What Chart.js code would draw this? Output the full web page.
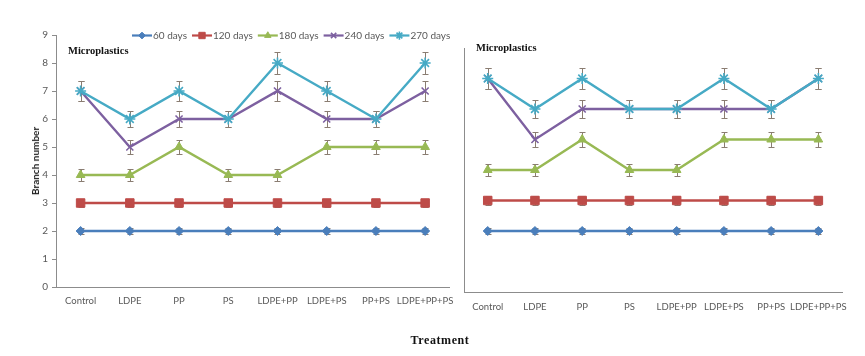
<!DOCTYPE html>
<html>
<head>
<meta charset="utf-8">
<script src="https://cdn.jsdelivr.net/npm/chart.js@4/dist/chart.umd.min.js"></script>
<style>
	body { margin: 0; background: #fff; }
	#wrap { position: relative; width: 865px; height: 356px; overflow: hidden; }
	canvas { position: absolute; top: 0; }
	.lbl { position: absolute; white-space: nowrap; }
	.micro { font: bold 10.5px 'Liberation Serif', serif; color: #111; }
</style>
</head>
<body>
<div id="wrap">
	<canvas id="left" width="462" height="356" style="left:0"></canvas>
	<canvas id="right" width="408" height="356" style="left:457px"></canvas>
	<div class="lbl micro" style="left:68px; top:45px;">Microplastics</div>
	<div class="lbl micro" style="left:476px; top:42px;">Microplastics</div>
	<div class="lbl" style="left:35px; top:161px; transform: translate(-50%,-50%) rotate(-90deg); font: bold 10px Lato, sans-serif; color:#222;">Branch number</div>
	<div class="lbl" style="left:440px; top:340px; transform: translate(-50%,-50%); font: bold 12px 'Liberation Serif', serif; letter-spacing: 0.6px; color:#111;">Treatment</div>
</div>
<script>
const categories = ['Control', 'LDPE', 'PP', 'PS', 'LDPE+PP', 'LDPE+PS', 'PP+PS', 'LDPE+PP+PS'];
const seriesNames = ['60 days', '120 days', '180 days', '240 days', '270 days'];

// left panel
const left60 = [2, 2, 2, 2, 2, 2, 2, 2];
const left120 = [3, 3, 3, 3, 3, 3, 3, 3];
const left180 = [4, 4, 5, 4, 4, 5, 5, 5];
const left240 = [7, 5, 6, 6, 7, 6, 6, 7];
const left270 = [7, 6, 7, 6, 8, 7, 6, 8];
const leftErr60 = [0.1, 0.1, 0.1, 0.1, 0.1, 0.1, 0.1, 0.1];
const leftErr120 = [0.15, 0.15, 0.15, 0.15, 0.15, 0.15, 0.15, 0.15];
const leftErr180 = [0.2, 0.2, 0.25, 0.2, 0.2, 0.25, 0.25, 0.25];
const leftErr240 = [0.35, 0.25, 0.3, 0.3, 0.35, 0.3, 0.3, 0.35];
const leftErr270 = [0.35, 0.3, 0.35, 0.3, 0.4, 0.35, 0.3, 0.4];

// right panel
const right60 = [2, 2, 2, 2, 2, 2, 2, 2];
const right120 = [3, 3, 3, 3, 3, 3, 3, 3];
const right180 = [4, 4, 5, 4, 4, 5, 5, 5];
const right240 = [7, 5, 6, 6, 6, 6, 6, 7];
const right270 = [7, 6, 7, 6, 6, 7, 6, 7];
const rightErr60 = [0.1, 0.1, 0.1, 0.1, 0.1, 0.1, 0.1, 0.1];
const rightErr120 = [0.15, 0.15, 0.15, 0.15, 0.15, 0.15, 0.15, 0.15];
const rightErr180 = [0.2, 0.2, 0.25, 0.2, 0.2, 0.25, 0.25, 0.25];
const rightErr240 = [0.35, 0.25, 0.3, 0.3, 0.3, 0.3, 0.3, 0.35];
const rightErr270 = [0.35, 0.3, 0.35, 0.3, 0.3, 0.35, 0.3, 0.35];

const yTicksLeft = [0, 1, 2, 3, 4, 5, 6, 7, 8, 9];

const colors = ['#4a7ebb', '#be4b48', '#98b954', '#7d60a0', '#46aac5'];
const styles = [
	{ pointStyle: 'rectRot', radius: 4.5, bw: 1 },
	{ pointStyle: 'rect', radius: 6, bw: 1 },
	{ pointStyle: 'triangle', radius: 5, bw: 1 },
	{ pointStyle: 'crossRot', radius: 5, bw: 1.6 },
	{ pointStyle: 'star', radius: 5.5, bw: 1.6 }
];
const axisColor = '#8c8c8c';
const textColor = '#595959';
Chart.defaults.font.family = 'Lato, sans-serif';

const makeDatasets = (values, errs) => values.map((v, i) => ({
	label: seriesNames[i],
	data: v,
	errors: errs[i],
	borderColor: colors[i],
	backgroundColor: colors[i],
	pointBackgroundColor: colors[i],
	pointBorderColor: colors[i],
	pointStyle: styles[i].pointStyle,
	pointRadius: styles[i].radius,
	pointBorderWidth: styles[i].bw,
	borderWidth: 2.4,
	tension: 0,
	order: 5 - i
}));

const errorBars = {
	id: 'errorBars',
	beforeDatasetsDraw(chart) {
		const ctx = chart.ctx;
		const y = chart.scales.y;
		ctx.save();
		ctx.strokeStyle = '#8a7d72';
		ctx.lineWidth = 1;
		chart.data.datasets.forEach((ds, di) => {
			const meta = chart.getDatasetMeta(di);
			meta.data.forEach((pt, i) => {
				const e = ds.errors[i];
				const top = Math.round(y.getPixelForValue(ds.data[i] + e)) + 0.5;
				const bot = Math.round(y.getPixelForValue(ds.data[i] - e)) + 0.5;
				const x = Math.round(pt.x) + 0.5;
				ctx.beginPath();
				ctx.moveTo(x, top); ctx.lineTo(x, bot);
				ctx.moveTo(x - 3, top); ctx.lineTo(x + 3, top);
				ctx.moveTo(x - 3, bot); ctx.lineTo(x + 3, bot);
				ctx.stroke();
			});
		});
		ctx.restore();
	}
};

const lineLegend = {
	id: 'lineLegend',
	afterDraw(chart) {
		const ctx = chart.ctx;
		ctx.save();
		ctx.font = '10px Lato, sans-serif';
		ctx.textBaseline = 'middle';
		let x = 132;
		const y = 35.5;
		chart.data.datasets.forEach((ds, i) => {
			ctx.strokeStyle = colors[i];
			ctx.fillStyle = colors[i];
			ctx.lineWidth = 2.2;
			ctx.beginPath();
			ctx.moveTo(x, y); ctx.lineTo(x + 20, y);
			ctx.stroke();
			ctx.lineWidth = styles[i].bw;
			Chart.helpers.drawPoint(ctx, { pointStyle: styles[i].pointStyle, radius: styles[i].radius * 0.75, rotation: 0, borderWidth: styles[i].bw }, x + 10, y);
			ctx.fillStyle = textColor;
			ctx.fillText(ds.label, x + 21, y);
			x += 21 + ctx.measureText(ds.label).width + 5;
		});
		ctx.restore();
	}
};

const buildChart = (id, datasets, opts) => new Chart(document.getElementById(id), {
	type: 'line',
	data: { labels: categories, datasets },
	options: {
		responsive: false,
		animation: false,
		layout: { padding: opts.padding },
		plugins: { legend: { display: false }, tooltip: { enabled: false } },
		scales: {
			x: {
				offset: true,
				grid: { display: true, drawOnChartArea: false, drawTicks: false },
				border: { display: true, color: axisColor },
				ticks: { color: textColor, font: { size: 9.5 }, padding: opts.xPad, maxRotation: 0, autoSkip: false },
				afterFit: (s) => { s.height = opts.xHeight; }
			},
			y: {
				min: 0,
				max: opts.yMax,
				grid: { display: true, drawOnChartArea: false, drawTicks: opts.yTicks, tickLength: 4, color: axisColor },
				border: { display: true, color: axisColor },
				ticks: { display: opts.yTicks, stepSize: 1, color: textColor, font: { size: 10 }, padding: 4 },
				afterFit: (s) => { s.width = opts.yWidth; }
			}
		}
	},
	plugins: opts.plugins
});

buildChart('left',
	makeDatasets([left60, left120, left180, left240, left270], [leftErr60, leftErr120, leftErr180, leftErr240, leftErr270]),
	{ padding: { top: 35, right: 9, left: 0, bottom: 0 }, xHeight: 69, xPad: 8, yMax: yTicksLeft[yTicksLeft.length - 1], yTicks: true, yWidth: 56, plugins: [errorBars, lineLegend] });

buildChart('right',
	makeDatasets([right60, right120, right180, right240, right270], [rightErr60, rightErr120, rightErr180, rightErr240, rightErr270]),
	{ padding: { top: 48, right: 23, left: 2, bottom: 0 }, xHeight: 64, xPad: 9, yMax: 8, yTicks: false, yWidth: 0, plugins: [errorBars] });
</script>
</body>
</html>
